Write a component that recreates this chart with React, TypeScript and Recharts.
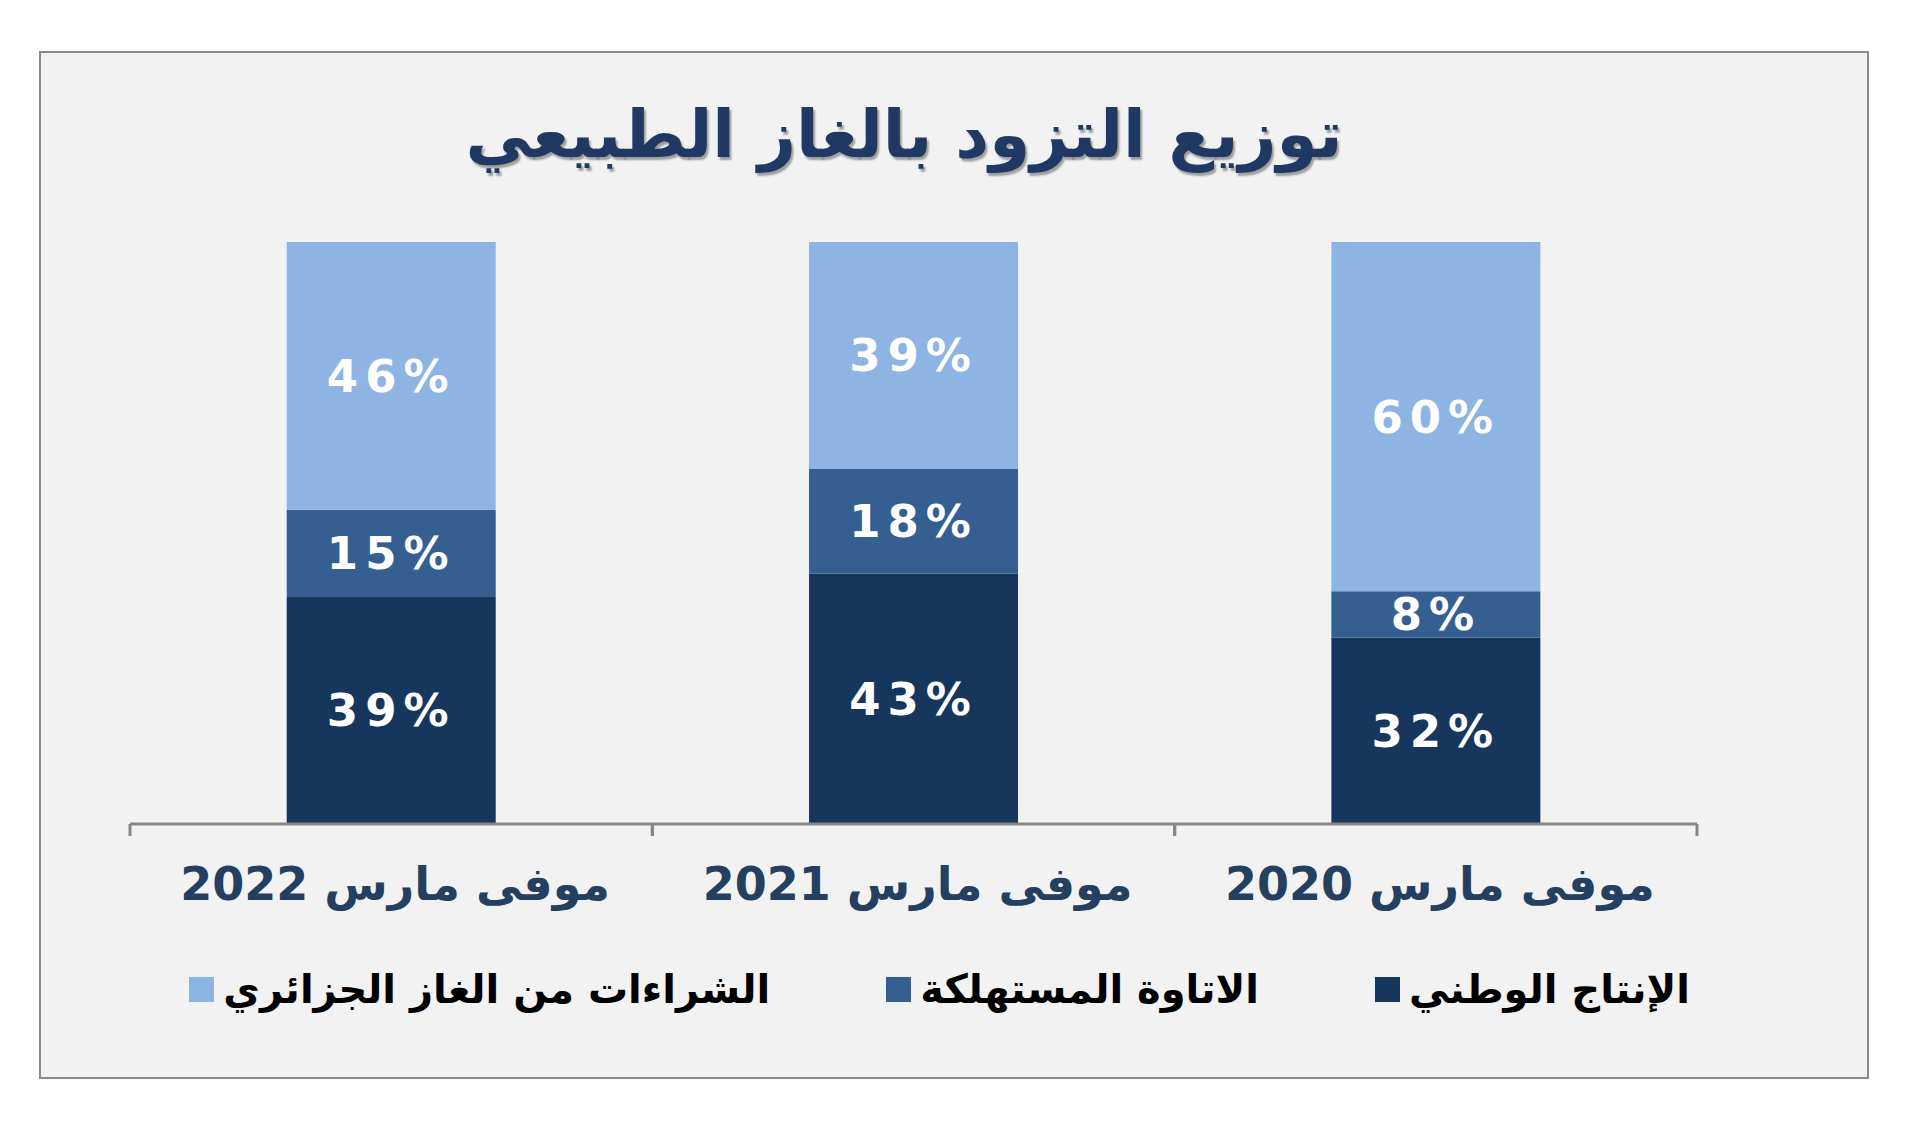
import { BarChart, Bar, XAxis, YAxis, Legend, LabelList } from "recharts";

const CATEGORIES = ["موفى مارس 2020", "موفى مارس 2021", "موفى مارس 2022"];
const NATIONAL = [32, 43, 39];
const ROYALTY = [8, 18, 15];
const PURCHASES = [60, 39, 46];

const SERIES = [
  { key: "national", name: "الإنتاج الوطني", color: "#17365D" },
  { key: "royalty", name: "الاتاوة المستهلكة", color: "#365F91" },
  { key: "purchases", name: "الشراءات من الغاز الجزائري", color: "#8EB4E3" },
];

const data = CATEGORIES.map((name, i) => ({
  name,
  national: NATIONAL[i],
  royalty: ROYALTY[i],
  purchases: PURCHASES[i],
}));

const FONT = "'DejaVu Sans', Verdana, sans-serif";
const AXIS_GREY = "#868686";

// category label plus Excel-style tick marks on the band boundaries
const CategoryTick = ({ x, y, payload }: any) => {
  const half = payload.offset || 0;
  const axisY = y - 12;
  return (
    <g>
      <line x1={x - half} x2={x - half} y1={axisY} y2={axisY + 12} stroke={AXIS_GREY} strokeWidth={3} />
      <line x1={x + half} x2={x + half} y1={axisY} y2={axisY + 12} stroke={AXIS_GREY} strokeWidth={3} />
      <text
        x={x + 4}
        y={axisY + 60}
        textAnchor="middle"
        dominantBaseline="central"
        direction="rtl"
        fontFamily={FONT}
        fontWeight="bold"
        fontSize={46}
        fill="#243F60"
      >
        {payload.value}
      </text>
    </g>
  );
};

const LegendContent = ({ payload }: any) => (
  <div
    style={{
      display: "flex",
      direction: "rtl",
      justifyContent: "flex-start",
      alignItems: "center",
      gap: 116,
      height: 60,
      paddingRight: 177,
      fontFamily: FONT,
      fontWeight: "bold",
      fontSize: 40,
      color: "#000",
    }}
  >
    {(payload || []).map((p: any) => (
      <div key={p.value} style={{ display: "flex", alignItems: "center", gap: 9 }}>
        <span>{p.value}</span>
        <span style={{ width: 25, height: 25, background: p.color, display: "inline-block" }} />
      </div>
    ))}
  </div>
);

export default function App() {
  return (
    <div style={{ position: "absolute", left: 0, top: 0, width: 1920, height: 1125, background: "#fff" }}>
      <div
        style={{
          position: "absolute",
          left: 39,
          top: 51,
          width: 1826,
          height: 1024,
          background: "#F2F2F2",
          border: "2px solid #8A8A8A",
        }}
      >
        <div
          style={{
            position: "absolute",
            top: 43,
            left: 0,
            width: 1726,
            textAlign: "center",
            direction: "rtl",
            fontFamily: FONT,
            fontWeight: "bold",
            fontSize: 66,
            color: "#1F3864",
            textShadow: "2px 3px 2px rgba(0,0,0,0.35)",
          }}
        >
          توزيع التزود بالغاز الطبيعي
        </div>
        <BarChart
          width={1826}
          height={1024}
          data={data}
          margin={{ top: 189, left: 89, right: 170, bottom: 58 }}
          barCategoryGap="30%"
        >
          <XAxis
            dataKey="name"
            reversed
            height={135}
            axisLine={{ stroke: AXIS_GREY, strokeWidth: 3 }}
            tickLine={false}
            tickSize={12}
            tickMargin={0}
            tick={<CategoryTick />}
            interval={0}
          />
          <YAxis hide domain={[0, 100]} />
          <Legend
            verticalAlign="bottom"
            content={<LegendContent />}
            wrapperStyle={{ left: 0, width: 1826, height: 60 }}
          />
          {SERIES.map((s) => (
            <Bar key={s.key} dataKey={s.key} name={s.name} stackId="a" fill={s.color} isAnimationActive={false}>
              <LabelList
                dataKey={s.key}
                position="center"
                formatter={(v: any) => `${v}%`}
                fill="#fff"
                fontFamily={FONT}
                fontWeight="bold"
                fontSize={45}
                style={{ letterSpacing: 7 }}
              />
            </Bar>
          ))}
        </BarChart>
      </div>
    </div>
  );
}
